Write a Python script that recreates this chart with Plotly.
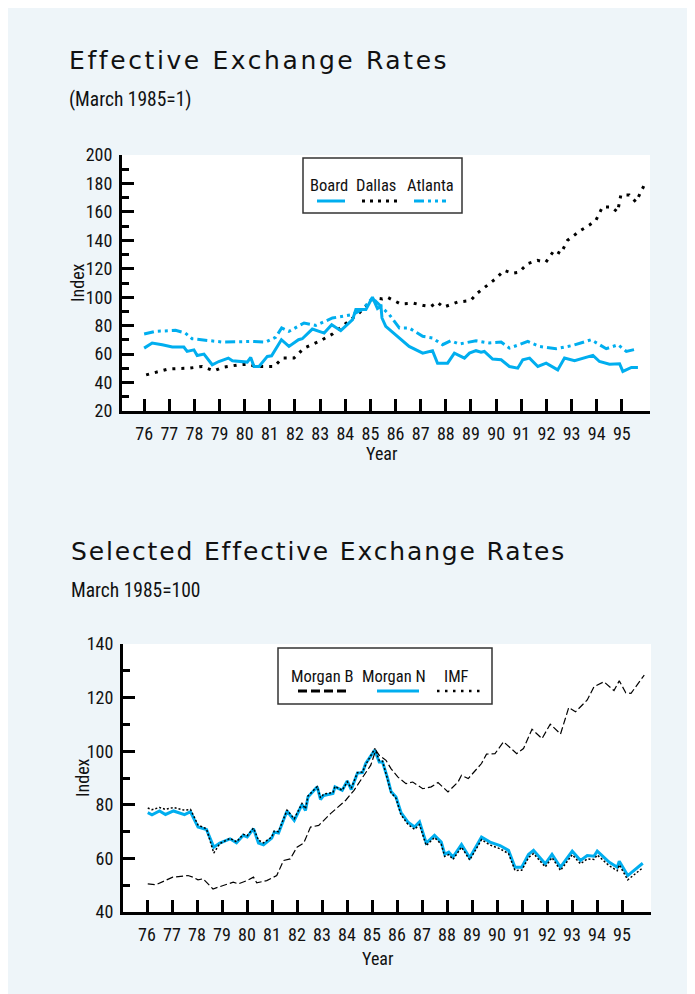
import plotly.graph_objects as go

W, H = 695, 994
OFF = 8  # page body margin in the screenshot

# ---------------- Top chart: Effective Exchange Rates (March 1985 = 1) ----------------
board_year = [76.0, 76.32, 76.72, 77.12, 77.58, 77.71, 77.98, 78.11, 78.38, 78.71, 78.97, 79.35,
              79.51, 80.10, 80.24, 80.37, 80.57, 80.90, 81.07, 81.46, 81.76, 82.14, 82.29, 82.69,
              83.16, 83.46, 83.82, 84.29, 84.42, 84.82, 85.08, 85.28, 85.42, 85.46, 85.61, 86.15,
              86.54, 87.08, 87.47, 87.67, 88.07, 88.34, 88.74, 88.94, 89.20, 89.40, 89.53, 89.86,
              90.20, 90.53, 90.86, 91.06, 91.33, 91.66, 91.99, 92.45, 92.72, 93.12, 93.85, 94.11,
              94.51, 94.91, 95.04, 95.38, 95.64]
board_value = [64.2, 67.8, 66.6, 65.0, 65.0, 61.9, 63.0, 59.0, 60.0, 52.5, 54.8, 57.2,
               55.3, 54.4, 57.6, 51.3, 51.3, 58.4, 58.8, 70.1, 65.4, 70.1, 70.8, 77.6,
               74.8, 80.7, 76.5, 84.2, 91.3, 91.3, 100.0, 92.0, 93.6, 85.4, 79.5, 71.3,
               65.4, 60.7, 62.4, 53.6, 53.6, 60.7, 57.2, 60.7, 62.4, 61.4, 61.9, 56.5,
               56.0, 51.3, 50.1, 56.0, 57.2, 51.3, 53.6, 48.9, 57.2, 55.3, 59.1, 54.8,
               52.9, 53.2, 47.8, 50.6, 50.6]

dallas_year = [76.08, 76.45, 76.98, 77.78, 78.31, 78.78, 79.11, 79.77, 80.17, 80.44, 81.17, 81.50,
               81.96, 82.36, 82.96, 83.49, 84.15, 84.55, 84.88, 85.15, 85.48, 85.67, 86.20, 86.72,
               87.12, 87.40, 87.66, 87.90, 88.46, 88.99, 89.25, 89.65, 89.98, 90.32, 90.65, 90.91,
               91.25, 91.64, 91.98, 92.31, 92.57, 92.84, 93.37, 93.70, 93.97, 94.23, 94.57, 94.83,
               94.96, 95.30, 95.56, 95.89]
dallas_value = [45.4, 47.3, 49.6, 50.1, 51.3, 48.2, 50.6, 52.5, 52.9, 51.3, 51.3, 57.2,
                57.2, 64.2, 68.9, 74.1, 83.1, 88.9, 94.8, 99.5, 98.8, 100.0, 95.3, 95.8,
                94.1, 93.4, 96.5, 93.0, 96.5, 97.7, 102.8, 108.3, 113.0, 118.8, 116.9, 117.6,
                123.6, 125.9, 124.7, 133.0, 130.6, 140.0, 147.1, 150.6, 154.1, 163.5, 163.5, 160.0,
                171.8, 171.8, 167.0, 178.8]

atlanta_year = [76.0, 76.45, 77.25, 77.64, 77.91, 78.58, 79.11, 80.30, 80.84, 81.23, 81.47, 81.76,
                82.36, 82.83, 83.49, 84.29, 84.68, 85.08, 85.35, 85.75, 86.15, 86.54, 87.08, 87.47,
                87.87, 88.20, 88.53, 89.20, 89.73, 90.20, 90.53, 91.26, 91.72, 92.39, 93.05, 93.78,
                94.38, 94.85, 95.18, 95.64]
atlanta_value = [74.1, 76.0, 76.7, 74.8, 70.8, 69.4, 68.5, 68.9, 68.5, 71.8, 78.4, 76.0,
                 81.9, 80.2, 85.4, 87.8, 91.3, 99.5, 94.8, 87.8, 78.4, 78.4, 72.5, 71.3,
                 66.6, 69.4, 67.1, 69.4, 67.8, 68.5, 64.2, 68.9, 65.4, 63.8, 66.1, 70.1,
                 63.8, 66.6, 61.9, 63.8]

# ---------------- Bottom chart: Selected Effective Exchange Rates (March 1985 = 100) ----------------
morgan_n_year = [76.03, 76.2, 76.5, 76.74, 77.06, 77.5, 77.74, 78.04, 78.38, 78.67, 78.91, 79.32,
                 79.58, 79.85, 80.01, 80.26, 80.46, 80.66, 80.99, 81.09, 81.26, 81.6, 81.89, 82.2,
                 82.34, 82.44, 82.81, 82.94, 83.07, 83.44, 83.52, 83.81, 84.01, 84.17, 84.42, 84.62,
                 84.75, 85.11, 85.29, 85.42, 85.62, 85.76, 85.96, 86.16, 86.43, 86.7, 86.9, 87.17,
                 87.5, 87.77, 87.91, 88.07, 88.24, 88.58, 88.91, 89.38, 89.72, 90.12, 90.46, 90.72,
                 90.99, 91.26, 91.46, 91.93, 92.2, 92.54, 93.01, 93.34, 93.61, 93.88, 94.01, 94.48,
                 94.81, 94.89, 95.23, 95.49, 95.83]
morgan_n_value = [77.1, 76.3, 77.7, 76.4, 77.7, 76.3, 77.4, 71.7, 70.8, 64.2, 65.7, 67.3,
                  65.8, 68.6, 68.0, 71.1, 65.7, 65.1, 67.6, 69.8, 69.5, 77.7, 74.2, 80.1,
                  77.9, 82.9, 86.7, 82.0, 83.5, 84.2, 86.7, 85.4, 88.9, 85.7, 91.9, 92.0,
                  95.4, 100.4, 96.0, 96.0, 90.0, 85.0, 82.9, 77.1, 73.6, 71.7, 73.6, 65.7,
                  68.6, 66.1, 61.5, 62.3, 60.5, 65.2, 60.2, 68.0, 66.1, 64.8, 63.0, 56.7,
                  56.7, 61.5, 63.0, 58.0, 61.5, 56.7, 62.7, 59.2, 61.1, 60.8, 62.7, 58.6,
                  56.7, 58.9, 53.6, 55.5, 58.2]

imf_year = morgan_n_year
imf_value = [78.8, 78.2, 79.0, 78.3, 79.0, 78.0, 78.3, 72.5, 71.0, 62.0, 65.5, 67.5,
             66.2, 69.0, 68.5, 71.3, 66.8, 65.8, 68.0, 70.2, 70.0, 78.0, 74.8, 80.5,
             78.5, 83.3, 86.8, 82.6, 84.0, 84.6, 86.9, 85.4, 88.6, 86.2, 92.0, 92.2,
             95.0, 101.0, 96.5, 96.3, 89.6, 84.5, 82.4, 76.3, 72.8, 70.8, 72.6, 64.8,
             67.8, 65.3, 60.7, 61.4, 59.6, 64.2, 59.4, 67.0, 65.0, 63.6, 61.8, 55.5,
             55.6, 60.3, 61.8, 56.8, 60.3, 55.5, 61.4, 58.0, 59.8, 59.6, 61.3, 57.3,
             55.4, 57.6, 52.0, 54.0, 56.5]

morgan_b_year = [76.03, 76.36, 77.03, 77.64, 77.84, 78.04, 78.24, 78.64, 79.05, 79.45, 79.65, 79.99,
                 80.26, 80.39, 80.79, 81.19, 81.46, 81.73, 82.0, 82.27, 82.54, 82.87, 83.34, 83.95,
                 84.28, 84.68, 84.95, 85.15, 85.29, 85.56, 85.76, 86.03, 86.36, 86.63, 87.03, 87.37,
                 87.64, 88.04, 88.44, 88.58, 88.85, 89.38, 89.58, 89.92, 90.26, 90.79, 91.06, 91.4,
                 91.8, 92.13, 92.54, 92.87, 93.14, 93.61, 93.88, 94.28, 94.68, 94.89, 95.15, 95.36,
                 95.6, 95.89]
morgan_b_value = [50.5, 50.2, 53.0, 53.6, 53.0, 52.0, 52.4, 48.6, 49.9, 51.1, 50.5, 51.7,
                  53.0, 50.9, 51.7, 53.6, 59.2, 59.8, 64.2, 65.7, 71.7, 72.3, 76.7, 81.7,
                  85.4, 91.0, 94.8, 100.4, 98.5, 96.6, 93.5, 90.4, 87.9, 88.5, 86.0, 86.7,
                  88.3, 84.8, 88.5, 91.0, 89.8, 95.4, 98.9, 99.1, 103.5, 99.1, 101.0, 108.2,
                  104.7, 110.1, 106.4, 116.3, 114.7, 119.1, 124.1, 125.9, 122.6, 126.3, 121.8, 121.6,
                  124.7, 128.4]

year_ticks = list(range(76, 96))
year_labels = [str(y) for y in year_ticks]

CYAN = "#00AEEF"
PANEL = "#EEF5F9"
TXT = "#111111"
NARROW = "Liberation Sans Narrow, Arial Narrow, Roboto Condensed, DejaVu Sans Condensed, sans-serif"
WIDE = "DejaVu Sans, Verdana, sans-serif"


def px(x):
    return (x - OFF) / W


def py(y):
    return 1 - (y - OFF) / H


fig = go.Figure()

# top traces
fig.add_trace(go.Scatter(x=dallas_year, y=dallas_value, mode="lines", xaxis="x", yaxis="y",
                         line=dict(color="black", width=3, dash="3px,6px"), name="Dallas"))
fig.add_trace(go.Scatter(x=atlanta_year, y=atlanta_value, mode="lines", xaxis="x", yaxis="y",
                         line=dict(color=CYAN, width=3, dash="10px,4px,3px,4px,3px,4px"), name="Atlanta"))
fig.add_trace(go.Scatter(x=board_year, y=board_value, mode="lines", xaxis="x", yaxis="y",
                         line=dict(color=CYAN, width=3), name="Board"))

# bottom traces
fig.add_trace(go.Scatter(x=morgan_n_year, y=morgan_n_value, mode="lines", xaxis="x2", yaxis="y2",
                         line=dict(color=CYAN, width=3), name="Morgan N"))
fig.add_trace(go.Scatter(x=imf_year, y=imf_value, mode="lines", xaxis="x2", yaxis="y2",
                         line=dict(color="black", width=1.5, dash="2px,2px"), name="IMF"))
fig.add_trace(go.Scatter(x=morgan_b_year, y=morgan_b_value, mode="lines", xaxis="x2", yaxis="y2",
                         line=dict(color="black", width=1.2, dash="7px,3px"), name="Morgan B"))

tickfont = dict(family=NARROW, size=18, color=TXT)

xcommon = dict(tickmode="array", tickvals=year_ticks, ticktext=year_labels, ticks="inside",
               ticklen=12, tickwidth=3, tickcolor="black", showline=True, linewidth=3,
               linecolor="black", showgrid=False, zeroline=False, tickfont=tickfont,
               ticklabelstandoff=4, automargin=False)
ycommon = dict(ticks="inside", ticklen=12, tickwidth=3, tickcolor="black", showline=True,
               linewidth=3, linecolor="black", showgrid=False, zeroline=False, tickfont=tickfont,
               dtick=20, ticklabelstandoff=3, automargin=False,
               minor=dict(dtick=10, ticks="inside", ticklen=7, tickwidth=3, tickcolor="black",
                          showgrid=False))

fig.update_layout(
    width=W, height=H, margin=dict(l=0, r=0, t=0, b=0, autoexpand=False),
    paper_bgcolor=PANEL, plot_bgcolor="white", showlegend=False,
    xaxis=dict(domain=[px(122), px(650)], range=[75.12, 96.12], anchor="y", **xcommon),
    yaxis=dict(domain=[py(411), py(155)], range=[20, 200], anchor="x", tick0=20, **ycommon),
    xaxis2=dict(domain=[px(123), px(651)], range=[75.04, 96.16], anchor="y2", **xcommon),
    yaxis2=dict(domain=[py(912), py(644)], range=[40, 140], anchor="x2", tick0=40, **ycommon),
)

ann = []


def text(x, y, s, size, family=NARROW, xanchor="center", angle=0):
    ann.append(dict(x=px(x), y=py(y), xref="paper", yref="paper", text=s, showarrow=False,
                    xanchor=xanchor, yanchor="middle", textangle=angle,
                    font=dict(family=family, size=size, color=TXT)))


# titles
text(67, 60, '<span style="letter-spacing:2.6px">Effective Exchange Rates</span>', 25, WIDE, "left")
text(67, 100, "(March 1985=1)", 19.5, NARROW, "left")
text(69, 551, '<span style="letter-spacing:1.85px">Selected Effective Exchange Rates</span>', 25, WIDE, "left")
text(69, 590, "March 1985=100", 19.5, NARROW, "left")

# axis titles
text(77, 283, "Index", 18, angle=-90)
text(382, 454, "Year", 18)
text(82, 778, "Index", 18, angle=-90)
text(378, 958, "Year", 18)

shapes = []

# top legend
shapes.append(dict(type="rect", xref="paper", yref="paper", x0=px(303), x1=px(462), y0=py(213), y1=py(158),
                   line=dict(color="#333333", width=1.5), fillcolor="white", layer="above"))
text(329, 185, "Board", 16.5)
text(376, 185, "Dallas", 16.5)
text(430, 185, "Atlanta", 16.5)
shapes.append(dict(type="line", xref="paper", yref="paper", x0=px(317), x1=px(345), y0=py(201), y1=py(201),
                   line=dict(color=CYAN, width=3)))
shapes.append(dict(type="line", xref="paper", yref="paper", x0=px(362), x1=px(398), y0=py(201), y1=py(201),
                   line=dict(color="black", width=3, dash="3px,5px")))
shapes.append(dict(type="line", xref="paper", yref="paper", x0=px(414), x1=px(446), y0=py(201), y1=py(201),
                   line=dict(color=CYAN, width=3, dash="10px,4px,3px,4px,3px,4px")))

# bottom legend
shapes.append(dict(type="rect", xref="paper", yref="paper", x0=px(278), x1=px(492), y0=py(704), y1=py(648),
                   line=dict(color="#333333", width=1.5), fillcolor="white", layer="above"))
text(322, 676, "Morgan B", 16.5)
text(394, 676, "Morgan N", 16.5)
text(457, 676, "IMF", 16.5)
shapes.append(dict(type="line", xref="paper", yref="paper", x0=px(298), x1=px(346), y0=py(691), y1=py(691),
                   line=dict(color="black", width=3, dash="9px,4px")))
shapes.append(dict(type="line", xref="paper", yref="paper", x0=px(377), x1=px(419), y0=py(691), y1=py(691),
                   line=dict(color=CYAN, width=3)))
shapes.append(dict(type="line", xref="paper", yref="paper", x0=px(437), x1=px(480), y0=py(691), y1=py(691),
                   line=dict(color="black", width=2.5, dash="2.5px,5.5px")))

fig.update_layout(annotations=ann, shapes=shapes)

fig.write_html("out.html")
